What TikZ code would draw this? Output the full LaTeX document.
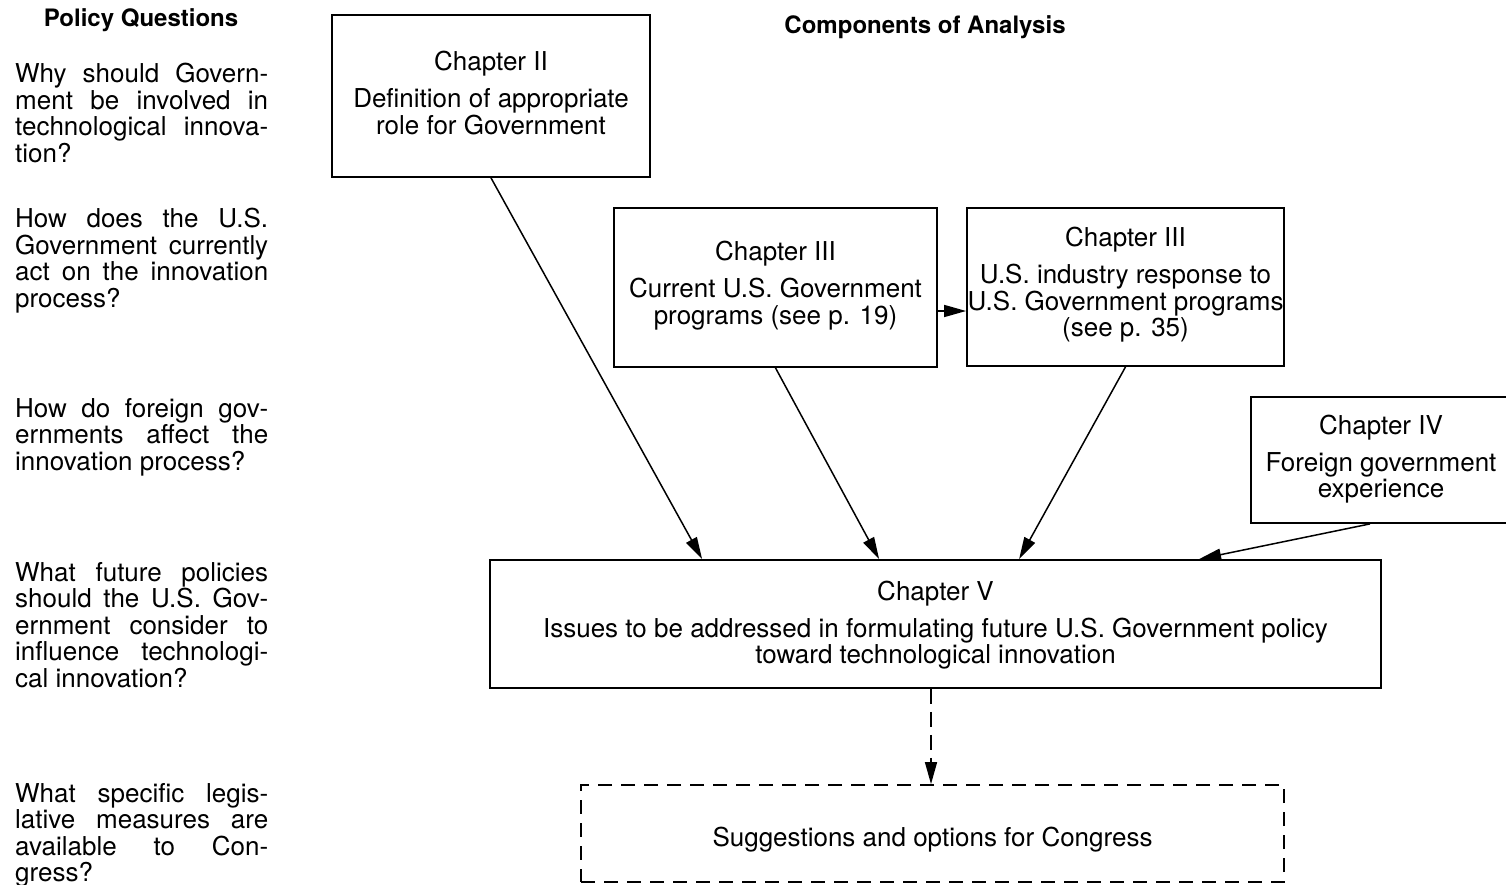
\documentclass[tikz,border=0pt]{standalone}
\usepackage{fontspec}
\setmainfont{TeX Gyre Heros}
\usetikzlibrary{arrows.meta}
\newcommand\jl[1]{\hbox to 253pt{\spaceskip=0.278em plus 1fil\relax #1}}
\begin{document}
\begin{tikzpicture}[x=1pt,y=-1pt,
  every node/.style={font=\fontsize{26}{26.5}\selectfont},
  ques/.style={anchor=base west,inner sep=0pt},
  ttl/.style={font=\bfseries\fontsize{24}{26}\selectfont,inner sep=0pt},
  chbox/.style={draw,line width=1.8pt,inner sep=0pt},
  dbox/.style={draw,line width=1.8pt,inner sep=0pt,dash pattern=on 14pt off 9pt},
  btext/.style={align=center,inner sep=0pt},
  arr/.style={line width=1.5pt,-{Triangle[length=22pt,width=12pt]}}]
\useasboundingbox (0,0) rectangle (1506,885);
% titles
\node[ttl] (t1) at (141,20) {Policy Questions};
\node[ttl] (t2) at (925,27) {Components of Analysis};
% policy questions
\node[ques] (q1) at (15,83) {\vtop{\jl{Why should Govern-}\jl{ment be involved in}\jl{technological innova-}\hbox{tion?}}};
\node[ques] (q2) at (15,228) {\vtop{\jl{How does the U.S.}\jl{Government currently}\jl{act on the innovation}\hbox{process?}}};
\node[ques] (q3) at (15,417) {\vtop{\jl{How do foreign gov-}\jl{ernments affect the}\hbox{innovation process?}}};
\node[ques] (q4) at (15,581) {\vtop{\jl{What future policies}\jl{should the U.S. Gov-}\jl{ernment consider to}\jl{influence technologi-}\hbox{cal innovation?}}};
\node[ques] (q5) at (15,802) {\vtop{\jl{What specific legis-}\jl{lative measures are}\jl{available to Con-}\hbox{gress?}}};
% boxes
\node[chbox,minimum width=318pt,minimum height=162pt] (II) at (491,96) {};
\node[btext] (IIt) at ([yshift=3pt]II.center)
  {Chapter II\\[10.5pt]Definition of appropriate\\role for Government};
\node[chbox,minimum width=323pt,minimum height=159pt] (A) at (775.5,287.5) {};
\node[btext] (At) at ([yshift=2pt]A.center)
  {Chapter III\\[10.5pt]Current U.S. Government\\programs (see p. 19)};
\node[chbox,minimum width=317pt,minimum height=158pt] (B) at (1125.5,287) {};
\node[btext] (Bt) at ([yshift=2pt]B.center)
  {Chapter III\\[10.5pt]U.S. industry response to\\U.S. Government programs\\(see p. 35)};
\node[chbox,minimum width=260pt,minimum height=126pt] (IV) at (1381,460) {};
\node[btext] (IVt) at ([yshift=1pt]IV.center)
  {Chapter IV\\[10.5pt]Foreign government\\experience};
\node[chbox,minimum width=891pt,minimum height=128pt] (V) at (935.5,624) {};
\node[btext] (Vt) at ([yshift=-1pt]V.center)
  {Chapter V\\[10.5pt]Issues to be addressed in formulating future U.S. Government policy\\toward technological innovation};
\node[dbox,minimum width=703pt,minimum height=97pt] (D) at (932.5,833.5) {};
\node[btext] (Dt) at ([yshift=-6pt]D.center) {Suggestions and options for Congress};
% connectors
\draw[arr] (II.south) -- ([xshift=213pt]V.north west);
\draw[arr] (A.south) -- ([xshift=390pt]V.north west);
\draw[arr] (B.south) -- ([xshift=530pt]V.north west);
\draw[arr] ([xshift=-11pt]IV.south) -- ([xshift=710pt]V.north west);
\draw[arr] ([yshift=-23.5pt]A.east) -- ([yshift=-23.5pt]A.east -| B.west);
\draw[arr,dash pattern=on 15pt off 8pt] ([xshift=-1.5pt]D.north |- V.south) -- ([xshift=-1.5pt]D.north);
\end{tikzpicture}
\end{document}
